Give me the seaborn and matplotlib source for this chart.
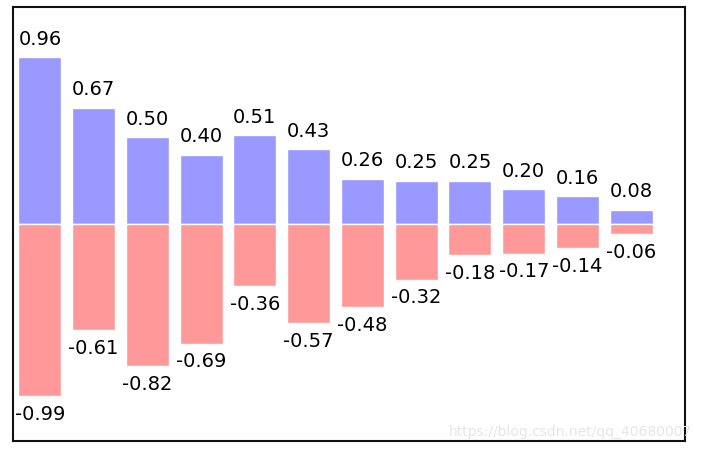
import matplotlib
matplotlib.use("Agg")
import matplotlib.pyplot as plt
import seaborn as sns
import numpy as np
import pandas as pd

categories = list(range(12))
pos_values = [0.96, 0.67, 0.50, 0.40, 0.51, 0.43, 0.26, 0.25, 0.25, 0.20, 0.16, 0.08]
neg_values = [0.99, 0.61, 0.82, 0.69, 0.36, 0.57, 0.48, 0.32, 0.18, 0.17, 0.14, 0.06]

sns.set_style("white")
plt.rcParams['font.family'] = ['DejaVu Sans']
plt.rcParams['text.color'] = 'black'

fig = plt.figure(figsize=(7.02, 4.5), dpi=100)
ax = fig.add_axes([13/702, 1 - 441/450, (685 - 13)/702, (441 - 7)/450])

df = pd.DataFrame({"x": categories, "pos": pos_values,
                   "neg": [-v for v in neg_values]})

sns.barplot(data=df, x="x", y="pos", color="#9999ff", edgecolor="white",
            saturation=1, width=0.8, ax=ax)
sns.barplot(data=df, x="x", y="neg", color="#ff9999", edgecolor="white",
            saturation=1, width=0.8, ax=ax)

for x, y in zip(categories, pos_values):
    ax.text(x, y + 0.05, '%.2f' % y, ha='center', va='bottom', fontsize=14,
            color='black')
for x, y in zip(categories, neg_values):
    ax.text(x, -y - 0.05, '%.2f' % -y, ha='center', va='top', fontsize=14,
            color='black')

ax.set_xlim(-0.5, len(categories))
ax.set_ylim(-1.25, 1.25)
ax.set_xticks([])
ax.set_yticks([])
ax.set_xlabel("")
ax.set_ylabel("")
for s in ax.spines.values():
    s.set_visible(True)
    s.set_color("#111111")
    s.set_linewidth(1.5)

fig.text(692/702, 1 - 432/450, "https://blog.csdn.net/qq_40680007",
         ha='right', va='center', fontsize=10, color='#e6e6e6')

fig.savefig("out.png", dpi=100, facecolor="white")
